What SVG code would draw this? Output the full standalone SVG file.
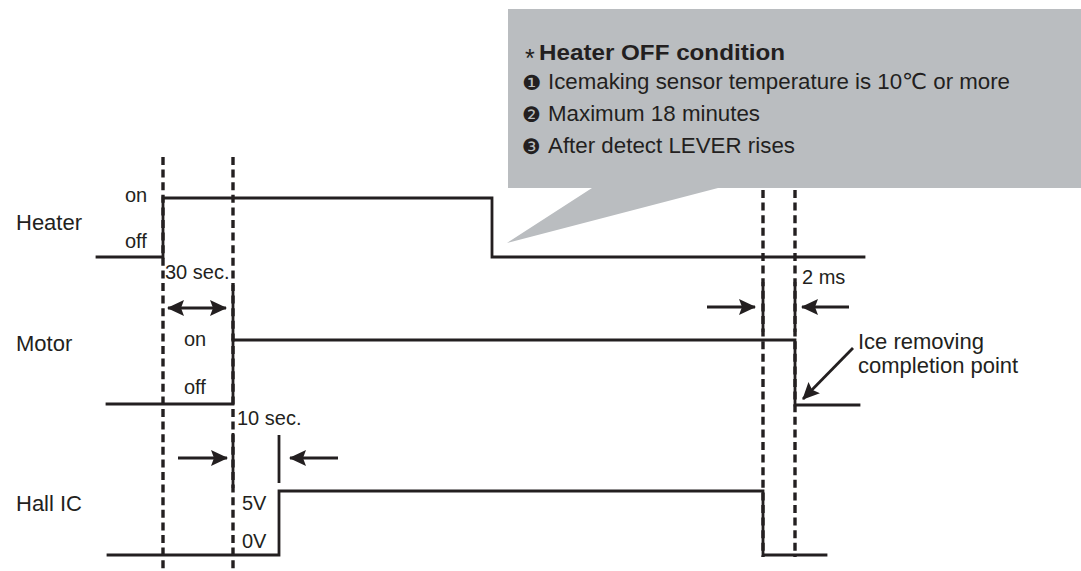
<svg xmlns="http://www.w3.org/2000/svg" width="1081" height="571" viewBox="0 0 1081 571">
  <style>
    .t { font-family: "Liberation Sans", Arial, "DejaVu Sans", sans-serif; fill: #231f20; }
    .lbl { font-size: 22px; }
    .sm { font-size: 20px; }
    .sig { fill: none; stroke: #231f20; stroke-width: 2.8; stroke-linejoin: miter; stroke-linecap: square; }
    .dash { fill: none; stroke: #231f20; stroke-width: 3.4; stroke-dasharray: 8 4.6; }
    .mark { stroke: #231f20; stroke-width: 2.8; }
    .arr { stroke: #231f20; stroke-width: 2.8; fill: none; marker-end: url(#ah); }
    .num { font-family: "DejaVu Sans", sans-serif; font-size: 21px; fill: #231f20; }
  </style>
  <defs>
    <marker id="ah" markerUnits="userSpaceOnUse" markerWidth="20" markerHeight="16" refX="16" refY="8" orient="auto-start-reverse">
      <path d="M0,0 L17,8 L0,16 L3,8 z" fill="#231f20"/>
    </marker>
  </defs>

  <g id="guides">
    <line class="dash" x1="163" y1="157" x2="163" y2="571"/>
    <line class="dash" x1="233" y1="157" x2="233" y2="571"/>
    <line class="dash" x1="763" y1="190" x2="763" y2="557"/>
    <line class="dash" x1="795" y1="190" x2="795" y2="557"/>
  </g>

  <g id="callout">
    <polygon points="508,9 1081,9 1081,188 718,188 507,243 592,188 508,188" fill="#babdc0"/>
    <text class="t" x="525" y="67" font-size="25">*</text>
    <text class="t" x="539" y="60" font-size="22" font-weight="bold" textLength="246" lengthAdjust="spacingAndGlyphs">Heater OFF condition</text>
    <text class="num" x="522" y="90">❶</text>
    <text class="t" x="548" y="89" font-size="22" textLength="462" lengthAdjust="spacingAndGlyphs">Icemaking sensor temperature is 10℃ or more</text>
    <text class="num" x="522" y="122">❷</text>
    <text class="t" x="548" y="121" font-size="22" textLength="212" lengthAdjust="spacingAndGlyphs">Maximum 18 minutes</text>
    <text class="num" x="522" y="154">❸</text>
    <text class="t" x="548" y="153" font-size="22" textLength="247" lengthAdjust="spacingAndGlyphs">After detect LEVER rises</text>
  </g>

  <g id="heater">
    <text class="t lbl" x="16" y="230">Heater</text>
    <text class="t sm" x="125" y="202">on</text>
    <text class="t sm" x="125" y="248">off</text>
    <path class="sig" d="M97,257 H163 V198 H492 V257 H864"/>
  </g>

  <g id="motor">
    <text class="t lbl" x="16" y="351">Motor</text>
    <text class="t sm" x="184" y="346">on</text>
    <text class="t sm" x="184" y="394">off</text>
    <path class="sig" d="M107,404 H233 V340 H795 V405 H859"/>
  </g>

  <g id="hall-ic">
    <text class="t lbl" x="16" y="511">Hall IC</text>
    <text class="t sm" x="242" y="510">5V</text>
    <text class="t sm" x="242" y="548">0V</text>
    <path class="sig" d="M108,555 H279 V491 H763 V555 H826"/>
  </g>

  <g id="timing-30s">
    <text class="t sm" x="165" y="279">30 sec.</text>
    <line class="mark" x1="233" y1="285" x2="233" y2="340"/>
  </g>

  <g id="timing-10s">
    <text class="t sm" x="237" y="425">10 sec.</text>
    <line class="mark" x1="233" y1="433" x2="233" y2="488"/>
    <line class="mark" x1="279" y1="435" x2="279" y2="483"/>
  </g>

  <g id="timing-2ms">
    <text class="t sm" x="802" y="284">2 ms</text>
    <line class="mark" x1="763" y1="282" x2="763" y2="332"/>
    <line class="mark" x1="795" y1="282" x2="795" y2="332"/>
  </g>

  <g id="completion-note">
    <text class="t lbl" x="858" y="349">Ice removing</text>
    <text class="t lbl" x="858" y="373">completion point</text>
  </g>

  <g id="connectors">
    <line class="arr" x1="168" y1="308" x2="226" y2="308" marker-start="url(#ah)"/>
    <line class="arr" x1="178" y1="458" x2="227" y2="458"/>
    <line class="arr" x1="338" y1="458" x2="290" y2="458"/>
    <line class="arr" x1="707" y1="307" x2="755" y2="307"/>
    <line class="arr" x1="849" y1="307" x2="802" y2="307"/>
    <line class="arr" x1="853" y1="348" x2="803" y2="399"/>
  </g>
</svg>
